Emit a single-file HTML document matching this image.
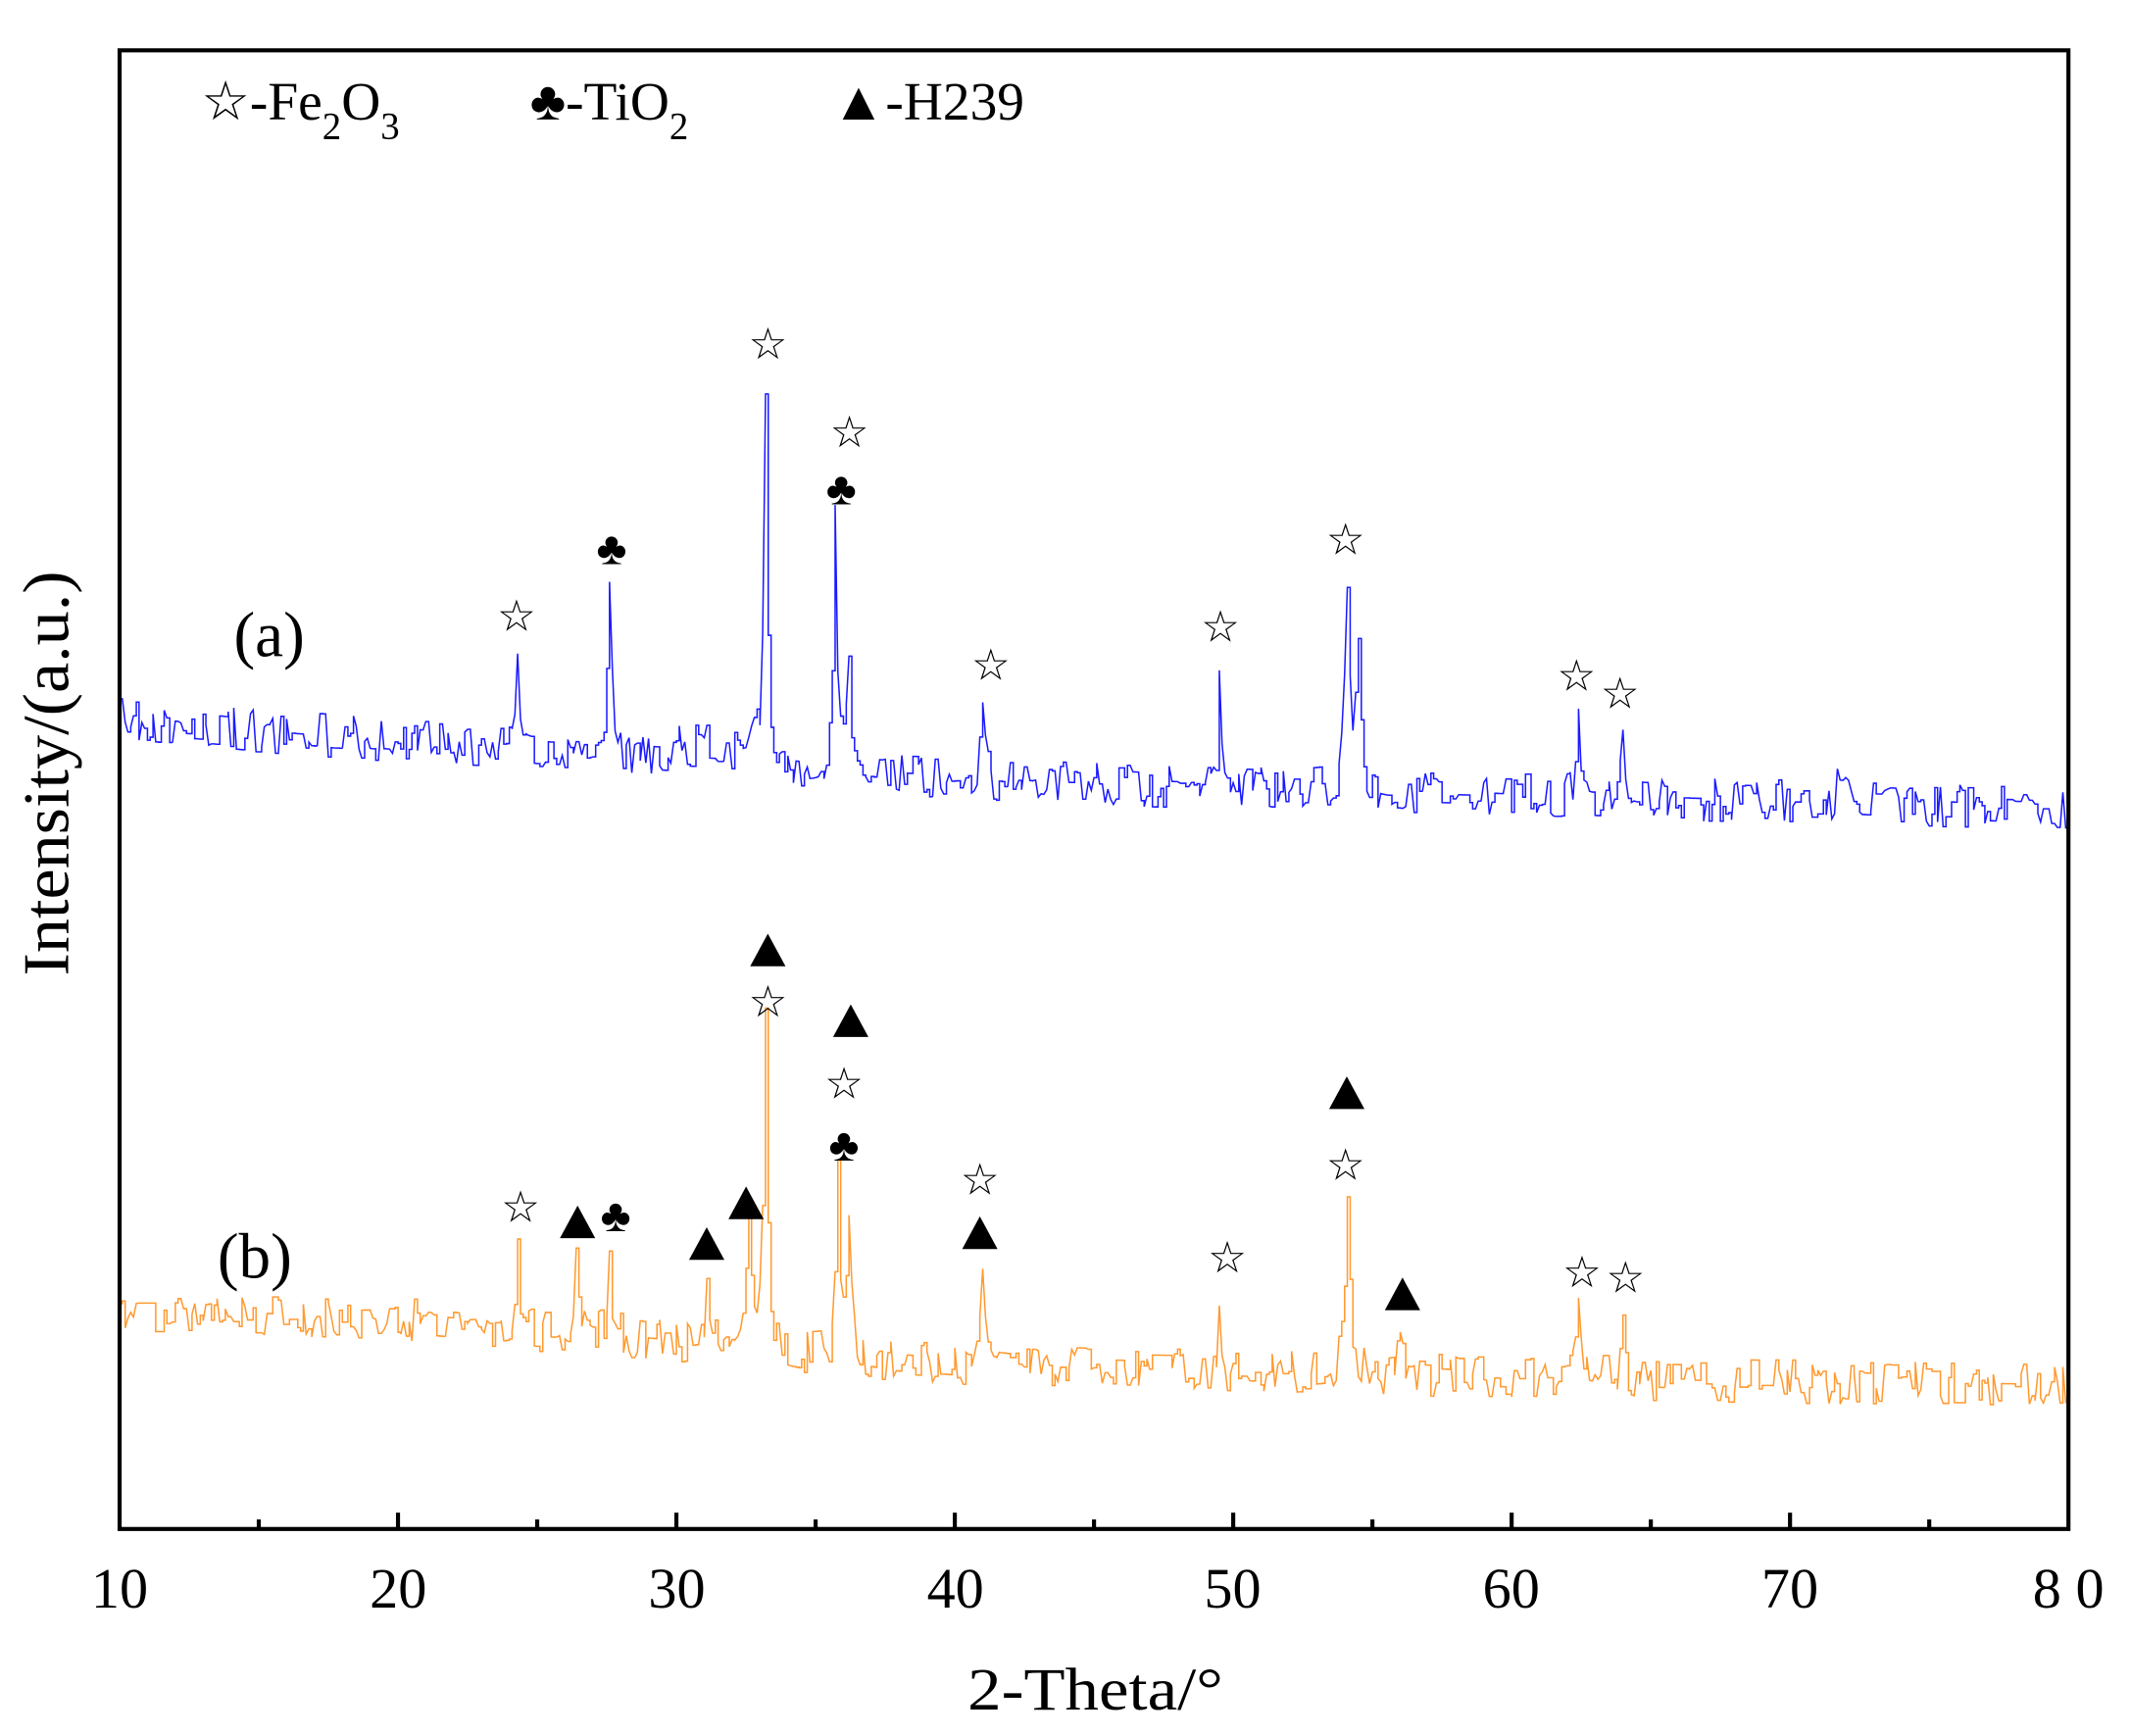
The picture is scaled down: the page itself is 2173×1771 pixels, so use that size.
<!DOCTYPE html>
<html><head><meta charset="utf-8"><style>
html,body{margin:0;padding:0;background:#fff;}
svg{display:block;}
text{font-family:"Liberation Serif",serif;fill:#000;}
</style></head><body>
<svg id="s" width="2173" height="1771" viewBox="0 0 1567.3 1277.3" xmlns="http://www.w3.org/2000/svg">
<rect x="0" y="0" width="1567.3" height="1277.3" fill="#fff"/>
<g id="data"></g>
<rect x="88" y="37" width="1434" height="1088" fill="none" stroke="#000" stroke-width="3"/>
<g id="ticks" stroke="#000" stroke-width="3"></g>
<g font-size="42" text-anchor="middle">
<text x="88" y="1183">10</text><text x="293" y="1183">20</text><text x="498" y="1183">30</text>
<text x="703" y="1183">40</text><text x="907" y="1183">50</text><text x="1112" y="1183">60</text>
<text x="1317" y="1183">70</text><text x="1522" y="1183">8 0</text>
</g>
<text x="712" y="1258" font-size="44" textLength="188" lengthAdjust="spacingAndGlyphs">2-Theta/°</text>
<text transform="translate(50,718) rotate(-90)" font-size="48" textLength="298" lengthAdjust="spacingAndGlyphs">Intensity/(a.u.)</text>
<text x="172" y="483" font-size="47">(a)</text>
<text x="160" y="940" font-size="47">(b)</text>
<g font-size="40">
<text x="148" y="88">☆-Fe<tspan font-size="28" dy="14">2</tspan><tspan dy="-14">O</tspan><tspan font-size="28" dy="14">3</tspan></text>
<text x="390" y="88">♣-TiO<tspan font-size="28" dy="14">2</tspan></text>
<text x="612" y="88">▲-H239</text>
</g>
<g id="marks"></g>
</svg>
<script>
var X=function(t){return 88+(t-10)*1434/70;};
var tk=document.getElementById('ticks'),h='';
for(var t=15;t<80;t+=5){var x=X(t),L=(t%10==0)?12:7;h+='<line x1="'+x+'" y1="1125" x2="'+x+'" y2="'+(1125-L)+'"/>';}
tk.innerHTML=h;
var seed=7;function rnd(){seed=(seed*16807)%2147483647;return seed/2147483647;}
function series(base,peaks,col){
 var pts=[],prev=0,py=null;
 for(var t=10;t<=80.0001;t+=0.1){
  var y=base(t);
  var n=(rnd()-0.5)*32; if(rnd()<0.3)n=prev; prev=n;
  var p=0;
  for(var i=0;i<peaks.length;i++){var d=(t-peaks[i][0])/peaks[i][2];p+=(base(peaks[i][0])-peaks[i][1])/(1+d*d*4);}
  y=y+n*(1-Math.min(1,p/120)*0.7)-p;
  var xx=X(t).toFixed(1);
  if(py!==null&&rnd()<0.5)pts.push(xx+','+py.toFixed(1));
  pts.push(xx+','+y.toFixed(1));py=y;
 }
 return '<polyline fill="none" stroke="'+col+'" stroke-width="1.1" points="'+pts.join(' ')+'"/>';
}
var baseA=function(t){return 530+ (t<40? (t-10)*1.5 : 575-530+(t-40)*0.5) + (t>30&&t<33?-12:0);};
var baseB=function(t){return 970+(t<20?0:t<40?(t-20)*1.8:36+(t-40)*0.35);};
var pa=[[24.3,487,0.12],[27.6,432,0.18],[33.2,288,0.15],[35.7,376,0.15],[36.2,495,0.18],[41,528,0.18],[49.5,487,0.12],[54.1,440,0.22],[54.5,480,0.18],[62.4,524,0.15],[64,532,0.15],[71.8,570,0.2]];
var pb=[[24.3,912,0.12],[26.4,925,0.14],[27.6,915,0.14],[31.1,945,0.14],[32.6,890,0.22],[33.2,750,0.16],[35.8,862,0.15],[36.2,905,0.18],[41,935,0.18],[49.5,960,0.12],[54.1,877,0.22],[56,975,0.12],[62.4,965,0.15],[64,970,0.15]];
document.getElementById('data').innerHTML=series(baseA,pa,'#1a1aff')+series(baseB,pb,'#ff9a30');
var m='';
function star(x,y){m+='<text x="'+x+'" y="'+(y+11)+'" font-size="32" text-anchor="middle">☆</text>';}
function club(x,y){m+='<text x="'+x+'" y="'+(y+11)+'" font-size="34" text-anchor="middle">♣</text>';}
function tri(x,y){m+='<polygon points="'+x+','+(y-13)+' '+(x-13)+','+(y+11)+' '+(x+13)+','+(y+11)+'" fill="#000"/>';}
[[380,453],[565,253],[625,318],[729,489],[898,461],[990,397],[1160,497],[1192,510],
 [383,888],[565,737],[621,797],[721,868],[903,925],[990,857],[1164,936],[1196,940]].forEach(function(p){star(p[0],p[1]);});
[[450,404],[619,360],[453,895],[621,843]].forEach(function(p){club(p[0],p[1]);});
[[425,900],[520,916],[549,886],[565,700],[626,752],[721,908],[991,805],[1032,953]].forEach(function(p){tri(p[0],p[1]);});
document.getElementById('marks').innerHTML=m;
</script>
</body></html>
